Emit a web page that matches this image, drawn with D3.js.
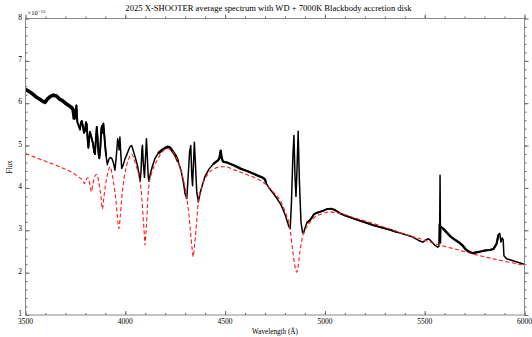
<!DOCTYPE html>
<html><head><meta charset="utf-8">
<script src="https://cdn.jsdelivr.net/npm/d3@7"></script>
<style>body{margin:0;background:#fff;} svg{display:block;} text{font-family:"Liberation Serif","DejaVu Serif",serif;}</style>
</head><body>
<script>
// ---- data ----
const obsWave = [3500,3510,3520,3530,3540,3555,3570,3585,3598,3610,3625,3640,3655,3670,3685,3700,3715,3731,3739,3745,3750,3755,3760,3768,3773,3778,3782,3788,3793,3798,3803,3807,3812,3815,3819,3823,3830,3838,3844,3848,3852,3857,3861,3866,3870,3875,3880,3883,3886,3890,3894,3898,3904,3910,3918,3925,3932,3940,3948,3955,3962,3966,3969,3973,3977,3982,3990,3998,4007,4015,4024,4032,4040,4048,4060,4068,4074,4079,4083,4086,4090,4096,4101,4106,4110,4115,4119,4126,4135,4149,4165,4180,4195,4210,4222,4235,4250,4265,4280,4292,4300,4308,4314,4322,4328,4333,4337,4341,4346,4351,4358,4366,4375,4385,4400,4420,4440,4455,4465,4472,4478,4483,4490,4510,4530,4550,4580,4610,4640,4670,4690,4700,4705,4720,4740,4760,4780,4800,4812,4820,4826,4832,4840,4845,4850,4855,4860,4866,4872,4880,4888,4893,4900,4910,4925,4935,4945,4965,4990,5010,5030,5050,5076,5100,5130,5160,5200,5242,5280,5320,5360,5410,5440,5470,5490,5505,5520,5535,5550,5565,5571,5573,5575,5577,5579,5581,5590,5610,5630,5650,5670,5690,5705,5720,5740,5760,5780,5800,5830,5845,5860,5870,5876,5882,5888,5893,5897,5910,5930,5950,5970,6000];
const obsFlux = [6.32,6.30,6.27,6.24,6.20,6.14,6.10,6.05,6.02,6.10,6.16,6.19,6.17,6.10,6.06,6.00,5.95,5.90,5.84,5.62,5.70,5.95,5.55,5.45,5.38,5.55,5.58,5.45,5.30,5.35,5.55,5.50,5.10,4.95,5.15,5.32,5.20,5.05,4.85,4.80,5.10,5.44,5.20,4.80,4.70,4.95,5.40,5.46,5.30,5.52,5.30,5.05,4.75,4.55,4.68,4.72,4.70,4.60,4.42,4.75,5.16,5.05,4.90,5.20,4.85,4.46,4.55,4.68,4.78,4.88,4.98,5.00,4.88,4.75,4.55,4.35,4.16,4.40,4.90,5.01,4.60,4.25,4.70,5.16,4.75,4.25,4.16,4.35,4.50,4.70,4.82,4.88,4.93,4.97,4.96,4.88,4.78,4.62,4.40,4.10,3.85,3.75,4.20,4.85,5.00,4.30,4.05,4.50,5.08,4.60,3.90,3.67,3.88,4.05,4.28,4.45,4.56,4.62,4.65,4.72,4.88,4.70,4.62,4.60,4.56,4.52,4.45,4.40,4.34,4.28,4.24,4.20,4.12,4.00,3.88,3.75,3.60,3.38,3.20,3.08,3.04,3.60,4.80,5.24,4.30,3.80,4.40,5.34,4.20,3.20,2.95,2.93,3.05,3.18,3.24,3.30,3.38,3.42,3.46,3.50,3.51,3.48,3.40,3.35,3.30,3.25,3.19,3.12,3.07,3.02,2.96,2.89,2.84,2.76,2.72,2.77,2.80,2.73,2.65,2.60,2.62,3.15,3.05,4.30,2.70,3.10,3.05,2.95,2.85,2.78,2.72,2.64,2.55,2.50,2.46,2.48,2.50,2.52,2.54,2.56,2.68,2.90,2.93,2.72,2.82,2.78,2.40,2.33,2.30,2.27,2.24,2.20];

const modelWave = [3500,3550,3600,3650,3700,3740,3765,3781,3790,3795,3802,3812,3822,3830,3838,3848,3857,3870,3878,3885,3892,3900,3910,3923,3935,3945,3953,3960,3968,3975,3982,3990,4005,4020,4032,4048,4062,4074,4083,4091,4096,4099,4102,4107,4113,4120,4130,4145,4160,4180,4195,4210,4230,4250,4270,4283,4299,4308,4318,4326,4334,4340,4346,4354,4360,4366,4383,4416,4449,4480,4500,4550,4600,4658,4700,4725,4750,4775,4800,4825,4838,4850,4859,4866,4876,4886,4893,4909,4942,4980,5025,5076,5150,5242,5330,5410,5490,5560,5650,5743,5850,5950,6000];
const modelFlux = [4.81,4.72,4.63,4.54,4.44,4.35,4.26,4.21,4.16,4.10,4.18,4.24,4.10,3.91,4.10,4.28,4.32,4.06,3.80,3.50,3.75,4.05,4.30,4.50,4.30,4.00,3.70,3.35,3.04,3.35,3.75,4.10,4.50,4.72,4.80,4.62,4.40,4.14,3.75,3.20,2.85,2.65,2.85,3.20,3.75,4.12,4.32,4.52,4.66,4.82,4.90,4.93,4.90,4.76,4.55,4.34,4.02,3.75,3.40,3.00,2.60,2.38,2.60,3.00,3.35,3.67,4.02,4.34,4.46,4.50,4.50,4.42,4.33,4.22,4.10,3.99,3.86,3.71,3.45,3.04,2.55,2.15,2.01,2.15,2.53,2.80,2.93,3.08,3.28,3.38,3.43,3.40,3.29,3.16,3.02,2.89,2.78,2.67,2.56,2.44,2.32,2.22,2.17];

const xTicks = [3500,4000,4500,5000,5500,6000];
const yTicks = [1,2,3,4,5,6,7,8];
const titleText = "2025 X-SHOOTER average spectrum with WD + 7000K Blackbody accretion disk";
const xLabel = "Wavelength (Å)";
const yLabel = "Flux";

// ---- layout ----
const W = 532, H = 337;
const m = {left:25.5, right:7.5, top:18.5, bottom:22};
const svg = d3.select("body").append("svg").attr("width",W).attr("height",H);
const x = d3.scaleLinear().domain([3500,6000]).range([m.left, W-m.right]);
const y = d3.scaleLinear().domain([1,8]).range([H-m.bottom, m.top]);

svg.append("clipPath").attr("id","c").append("rect")
  .attr("x",m.left).attr("y",m.top).attr("width",W-m.left-m.right).attr("height",H-m.top-m.bottom);

const obs = obsWave.map((w,i)=>({w, f:obsFlux[i]}));
const mod = modelWave.map((w,i)=>({w, f:modelFlux[i]}));
const line = d3.line().x(d=>x(d.w)).y(d=>y(d.f));

const g = svg.append("g").attr("clip-path","url(#c)");
g.append("path").datum(obs).attr("d",line).attr("fill","none").attr("stroke","#000").attr("stroke-width",1.5).attr("stroke-linejoin","round");
// noisier stretches rendered thicker
const thick = [[3500,3745,3.6],[3745,3905,1.9],[4150,4265,2.6],[4430,4705,2.3],[4905,5400,1.9],[5585,5720,2.4],[5720,5870,2.2]];
thick.forEach(([a,b,sw])=>{
  g.append("path").datum(obs.filter(d=>d.w>=a&&d.w<=b)).attr("d",line).attr("fill","none")
   .attr("stroke","#000").attr("stroke-width",sw).attr("stroke-linejoin","round");
});
g.append("path").datum(mod).attr("d",d3.line().x(d=>x(d.w)).y(d=>y(d.f)).curve(d3.curveMonotoneX))
  .attr("fill","none").attr("stroke","#ff1a1a").attr("stroke-width",1.1).attr("stroke-dasharray","4,2.5");

// ---- axes ----
const axC = "#666";
function styl(sel){ sel.select(".domain").remove(); sel.selectAll("line").attr("stroke",axC); sel.selectAll("text").remove(); }
const xMinor = d3.range(3500,6001,100), yMinor = d3.range(1,8.001,0.2);
[[d3.axisBottom(x), H-m.bottom, 1],[d3.axisTop(x), m.top, -1]].forEach(([ax,ty,s])=>{
  svg.append("g").attr("transform",`translate(0,${ty})`).call(ax.tickValues(xMinor).tickSize(-2*s).tickFormat("")).call(styl);
  svg.append("g").attr("transform",`translate(0,${ty})`).call(ax.tickValues(xTicks).tickSize(-4*s).tickFormat("")).call(styl);
});
[[d3.axisLeft(y), m.left, 1],[d3.axisRight(y), W-m.right, -1]].forEach(([ax,tx,s])=>{
  svg.append("g").attr("transform",`translate(${tx},0)`).call(ax.tickValues(yMinor).tickSize(-2*s).tickFormat("")).call(styl);
  svg.append("g").attr("transform",`translate(${tx},0)`).call(ax.tickValues(yTicks).tickSize(-4*s).tickFormat("")).call(styl);
});
svg.append("rect").attr("x",m.left).attr("y",m.top).attr("width",W-m.left-m.right).attr("height",H-m.top-m.bottom)
  .attr("fill","none").attr("stroke","#888").attr("stroke-width",1);

// tick labels
svg.append("g").selectAll("text").data(xTicks).join("text")
  .attr("x",d=>x(d)).attr("y",H-m.bottom+9).attr("text-anchor","middle").attr("font-size",7.5).text(d=>d);
svg.append("g").selectAll("text").data(yTicks).join("text")
  .attr("x",m.left-3.5).attr("y",d=>y(d)+1).attr("text-anchor","end").attr("font-size",7.5).text(d=>d);

// exponent
const ex = svg.append("text").attr("x",m.left+2).attr("y",m.top-3.5).attr("font-size",6.5);
ex.append("tspan").text("×10");
ex.append("tspan").attr("dy",-2.5).attr("font-size",5).text("−15");

// title & labels
svg.append("text").attr("x",268.5).attr("y",10.5).attr("text-anchor","middle").attr("font-size",8.6).text(titleText);
svg.append("text").attr("x",275).attr("y",333.5).attr("text-anchor","middle").attr("font-size",7.2).text(xLabel);
svg.append("text").attr("transform","translate(12,167) rotate(-90)").attr("text-anchor","middle").attr("font-size",7.2).text(yLabel);
</script>
</body></html>
